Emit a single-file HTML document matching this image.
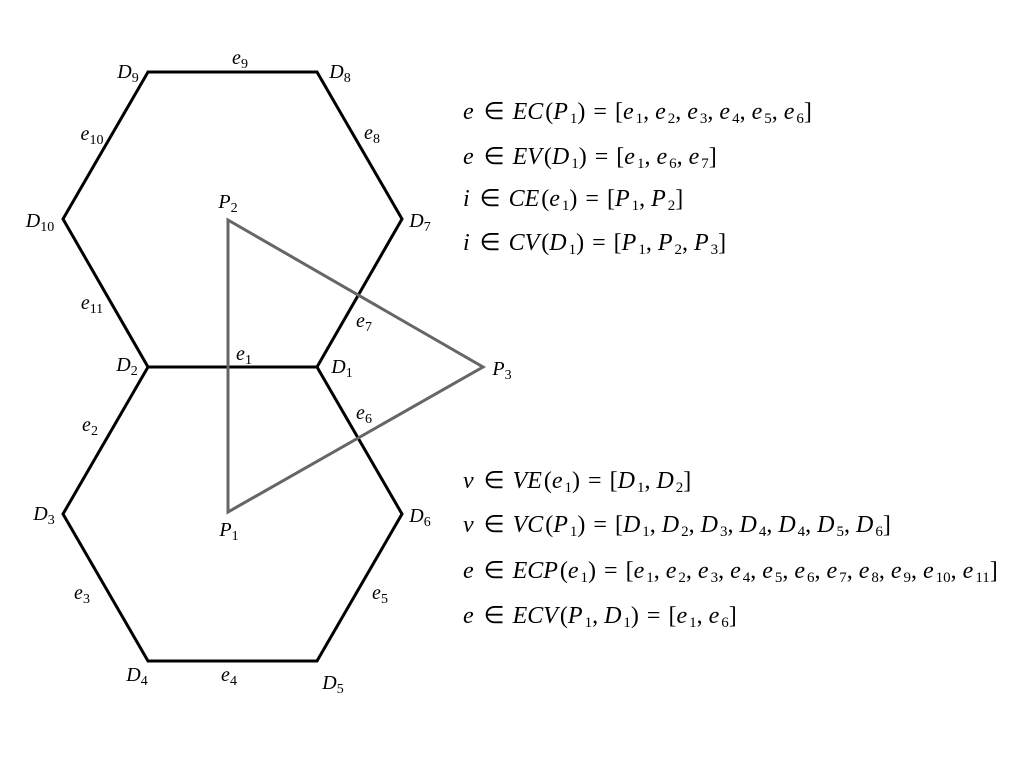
<!DOCTYPE html>
<html><head><meta charset="utf-8"><style>
body{margin:0;width:1024px;height:768px;background:#fff;position:relative;overflow:hidden;font-family:"Liberation Serif",serif;}
.t{position:absolute;font-size:24px;line-height:24px;white-space:nowrap;transform:translateY(-50%);}
.t i{font-style:italic;margin-right:2px}
.t b{font-weight:normal;margin:0 8px}
.t u{text-decoration:none;margin-right:6px}
sub{font-size:15px;vertical-align:-4px;line-height:0;font-style:normal}
.l{position:absolute;font-size:20px;line-height:20px;font-style:italic;transform:translate(-50%,-50%);white-space:nowrap}
.l sub{font-style:normal;font-size:14px}
</style></head><body>
<svg width="1024" height="768" style="position:absolute;left:0;top:0">
<g fill="none" stroke="#000" stroke-width="3" stroke-linejoin="miter">
<polygon points="148,72 317,72 402,219 317,367 148,367 63,219"/>
<polygon points="148,367 317,367 402,514 317,661 148,661 63,514"/>
</g>
<polygon points="228,220 483,367 228,512" fill="none" stroke="#666" stroke-width="3"/>
</svg>
<div class="l" style="left:128px;top:72px">D<sub>9</sub></div>
<div class="l" style="left:240px;top:58px">e<sub>9</sub></div>
<div class="l" style="left:340px;top:72px">D<sub>8</sub></div>
<div class="l" style="left:92px;top:134px">e<sub>10</sub></div>
<div class="l" style="left:372px;top:133px">e<sub>8</sub></div>
<div class="l" style="left:40px;top:221px">D<sub>10</sub></div>
<div class="l" style="left:420px;top:221px">D<sub>7</sub></div>
<div class="l" style="left:228px;top:202px">P<sub>2</sub></div>
<div class="l" style="left:92px;top:303px">e<sub>11</sub></div>
<div class="l" style="left:364px;top:321px">e<sub>7</sub></div>
<div class="l" style="left:244px;top:354px">e<sub>1</sub></div>
<div class="l" style="left:127px;top:365px">D<sub>2</sub></div>
<div class="l" style="left:342px;top:367px">D<sub>1</sub></div>
<div class="l" style="left:502px;top:369px">P<sub>3</sub></div>
<div class="l" style="left:364px;top:413px">e<sub>6</sub></div>
<div class="l" style="left:90px;top:425px">e<sub>2</sub></div>
<div class="l" style="left:44px;top:514px">D<sub>3</sub></div>
<div class="l" style="left:420px;top:516px">D<sub>6</sub></div>
<div class="l" style="left:229px;top:530px">P<sub>1</sub></div>
<div class="l" style="left:82px;top:593px">e<sub>3</sub></div>
<div class="l" style="left:380px;top:593px">e<sub>5</sub></div>
<div class="l" style="left:137px;top:675px">D<sub>4</sub></div>
<div class="l" style="left:229px;top:675px">e<sub>4</sub></div>
<div class="l" style="left:333px;top:683px">D<sub>5</sub></div>

<div class="t" style="left:463px;top:112px"><i>e</i><b>∈</b><i>EC</i>(<i>P</i><sub>1</sub>)<b>=</b>[<i>e</i><sub>1</sub><u>,</u><i>e</i><sub>2</sub><u>,</u><i>e</i><sub>3</sub><u>,</u><i>e</i><sub>4</sub><u>,</u><i>e</i><sub>5</sub><u>,</u><i>e</i><sub>6</sub>]</div>
<div class="t" style="left:463px;top:157px"><i>e</i><b>∈</b><i>EV</i>(<i>D</i><sub>1</sub>)<b>=</b>[<i>e</i><sub>1</sub><u>,</u><i>e</i><sub>6</sub><u>,</u><i>e</i><sub>7</sub>]</div>
<div class="t" style="left:463px;top:199px"><i>i</i><b>∈</b><i>CE</i>(<i>e</i><sub>1</sub>)<b>=</b>[<i>P</i><sub>1</sub><u>,</u><i>P</i><sub>2</sub>]</div>
<div class="t" style="left:463px;top:243px"><i>i</i><b>∈</b><i>CV</i>(<i>D</i><sub>1</sub>)<b>=</b>[<i>P</i><sub>1</sub><u>,</u><i>P</i><sub>2</sub><u>,</u><i>P</i><sub>3</sub>]</div>
<div class="t" style="left:463px;top:481px"><i>v</i><b>∈</b><i>VE</i>(<i>e</i><sub>1</sub>)<b>=</b>[<i>D</i><sub>1</sub><u>,</u><i>D</i><sub>2</sub>]</div>
<div class="t" style="left:463px;top:525px"><i>v</i><b>∈</b><i>VC</i>(<i>P</i><sub>1</sub>)<b>=</b>[<i>D</i><sub>1</sub><u>,</u><i>D</i><sub>2</sub><u>,</u><i>D</i><sub>3</sub><u>,</u><i>D</i><sub>4</sub><u>,</u><i>D</i><sub>4</sub><u>,</u><i>D</i><sub>5</sub><u>,</u><i>D</i><sub>6</sub>]</div>
<div class="t" style="left:463px;top:571px"><i>e</i><b>∈</b><i>ECP</i>(<i>e</i><sub>1</sub>)<b>=</b>[<i>e</i><sub>1</sub><u>,</u><i>e</i><sub>2</sub><u>,</u><i>e</i><sub>3</sub><u>,</u><i>e</i><sub>4</sub><u>,</u><i>e</i><sub>5</sub><u>,</u><i>e</i><sub>6</sub><u>,</u><i>e</i><sub>7</sub><u>,</u><i>e</i><sub>8</sub><u>,</u><i>e</i><sub>9</sub><u>,</u><i>e</i><sub>10</sub><u>,</u><i>e</i><sub>11</sub>]</div>
<div class="t" style="left:463px;top:616px"><i>e</i><b>∈</b><i>ECV</i>(<i>P</i><sub>1</sub><u>,</u><i>D</i><sub>1</sub>)<b>=</b>[<i>e</i><sub>1</sub><u>,</u><i>e</i><sub>6</sub>]</div>
</body></html>
